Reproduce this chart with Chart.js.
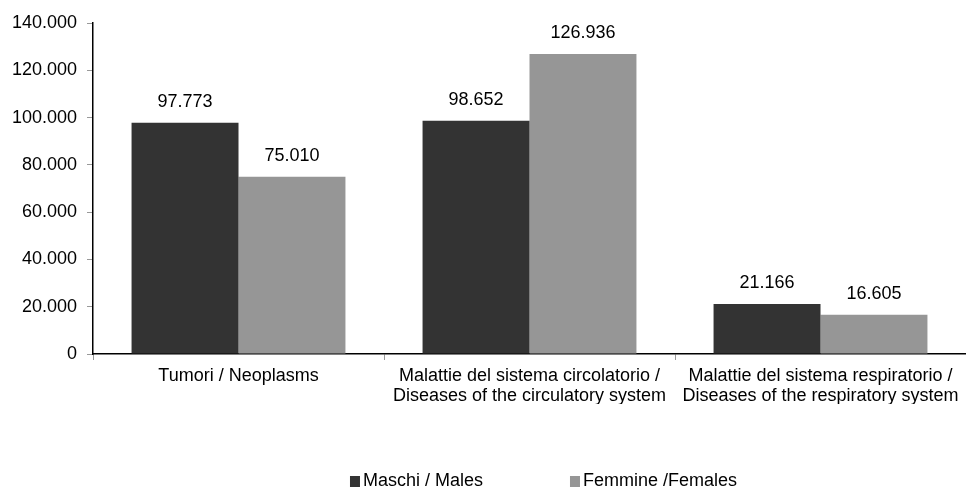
<!DOCTYPE html>
<html>
<head>
<meta charset="utf-8">
<script src="https://cdn.jsdelivr.net/npm/chart.js@4"></script>
<style>
  html, body { margin: 0; padding: 0; background: #fff; }
  #wrap { width: 966px; height: 489px; }
</style>
</head>
<body>
<div id="wrap"><canvas id="deathChart" width="966" height="489"></canvas></div>
<script>
const categories = [
    ['Tumori / Neoplasms'],
    ['Malattie del sistema circolatorio /', 'Diseases of the circulatory system'],
    ['Malattie del sistema respiratorio /', 'Diseases of the respiratory system']
];
const seriesNames = ['Maschi / Males', 'Femmine /Females'];
const males = [97773, 98652, 21166];
const females = [75010, 126936, 16605];
const yTicks = [0, 20000, 40000, 60000, 80000, 100000, 120000, 140000];

const FONT = { family: "'Liberation Sans', Arial, sans-serif", size: 18, lineHeight: 1.1 };

function fmt(v) {
    return String(v).replace(/\B(?=(\d{3})+(?!\d))/g, '.');
}

// values above the bars
const barLabels = {
    id: 'barLabels',
    afterDatasetsDraw(chart) {
        const ctx = chart.ctx;
        ctx.save();
        ctx.font = FONT.size + 'px ' + FONT.family;
        ctx.fillStyle = '#000';
        ctx.textAlign = 'center';
        ctx.textBaseline = 'alphabetic';
        chart.data.datasets.forEach((ds, i) => {
            chart.getDatasetMeta(i).data.forEach((bar, j) => {
                ctx.fillText(fmt(ds.data[j]), bar.x, bar.y - 16);
            });
        });
        ctx.restore();
    }
};

// legend with wide spacing like the original
const wideLegend = {
    id: 'wideLegend',
    afterDraw(chart) {
        const ctx = chart.ctx;
        const area = chart.chartArea;
        const step = 220, box = 10, gap = 3;
        ctx.save();
        ctx.font = FONT.size + 'px ' + FONT.family;
        ctx.textBaseline = 'middle';
        const sets = chart.data.datasets;
        const lastW = box + gap + ctx.measureText(sets[sets.length - 1].label).width;
        const total = step * (sets.length - 1) + lastW;
        let x = (area.left + area.right) / 2 + 14 - total / 2;
        const y = 481;
        sets.forEach(ds => {
            ctx.fillStyle = ds.backgroundColor;
            ctx.fillRect(x, y - box / 2, box, box + 1);
            ctx.fillStyle = '#000';
            ctx.fillText(ds.label, x + box + gap, y);
            x += step;
        });
        ctx.restore();
    }
};

new Chart(document.getElementById('deathChart'), {
    type: 'bar',
    data: {
        labels: categories,
        datasets: [{
            label: seriesNames[0],
            data: males,
            backgroundColor: '#333333'
        }, {
            label: seriesNames[1],
            data: females,
            backgroundColor: '#969696'
        }]
    },
    options: {
        responsive: false,
        animation: false,
        devicePixelRatio: 1,
        layout: {
            padding: { top: 23, left: 2, right: 0, bottom: 85 }
        },
        categoryPercentage: 0.735,
        barPercentage: 1.0,
        plugins: {
            legend: { display: false },
            tooltip: { enabled: false }
        },
        scales: {
            x: {
                afterFit(scale) {
                    scale.height = 50;
                    scale.paddingLeft = 0;
                    scale.paddingRight = 0;
                },
                grid: {
                    display: true,
                    offset: true,
                    drawOnChartArea: false,
                    tickLength: 6,
                    color: '#999'
                },
                border: { color: '#000', width: 1.5 },
                ticks: {
                    color: '#000',
                    font: FONT,
                    padding: 6,
                    maxRotation: 0,
                    autoSkip: false
                }
            },
            y: {
                min: 0,
                max: 140000,
                afterBuildTicks(scale) {
                    scale.ticks = yTicks.map(v => ({ value: v }));
                },
                afterFit(scale) {
                    scale.width = 91;
                    scale.paddingTop = 0;
                    scale.paddingBottom = 0;
                },
                grid: {
                    display: true,
                    drawOnChartArea: false,
                    tickLength: 6,
                    color: '#999'
                },
                border: { color: '#000', width: 1.5 },
                ticks: {
                    color: '#000',
                    font: FONT,
                    padding: 10,
                    callback: v => fmt(v)
                }
            }
        }
    },
    plugins: [barLabels, wideLegend]
});
</script>
</body>
</html>
